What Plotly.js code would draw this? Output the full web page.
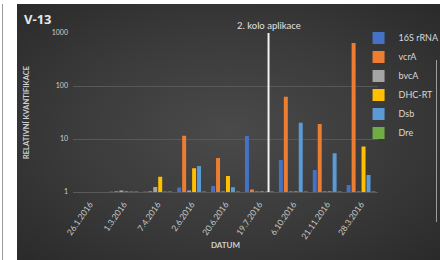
<!DOCTYPE html>
<html>
<head>
<meta charset="utf-8">
<script src="https://cdn.plot.ly/plotly-3.0.1.min.js"></script>
<style>
  html, body { margin: 0; padding: 0; background: #ffffff; width: 440px; height: 260px; overflow: hidden; }
  #edge { position: absolute; left: 2px; top: 4px; width: 1px; height: 256px; background: #9a9a9a; }
  #bg { position: absolute; left: 17px; top: 4px; width: 423px; height: 256px;
        background: radial-gradient(ellipse at 50% 50%, #4a4a4a 0%, #3a3a3a 55%, #2a2a2a 100%); }
  #rline { position: absolute; left: 436px; top: 60px; width: 1px; height: 162px; background: #9c9c9c; }
  #chart { position: absolute; left: 0; top: 0; width: 440px; height: 260px; }
</style>
</head>
<body>
<div id="edge"></div>
<div id="bg"></div>
<div id="rline"></div>
<div id="chart"></div>
<script>
const categories = ["26.1.2016", "1.3.2016", "7.4.2016", "2.6.2016", "20.6.2016", "19.7.2016", "6.10.2016", "21.11.2016", "28.3.2016"];
const s16S   = [1.0, 1.02, 1.02, 1.22, 1.3, 11.4, 4.0, 2.6, 1.35];
const vcrA   = [1.0, 1.03, 1.03, 11.5, 4.4, 1.12, 63, 19.2, 650];
const bvcA   = [1.0, 1.07, 1.24, 1.07, 1.02, 1.02, 1.02, 1.02, 1.02];
const dhcRT  = [1.0, 1.02, 1.95, 2.8, 2.0, 1.02, 1.02, 1.02, 7.2];
const dsb    = [1.0, 1.02, 1.02, 3.1, 1.23, 1.02, 20.3, 5.4, 2.1];
const dre    = [1.0, 1.02, 1.02, 1.02, 1.02, 1.02, 1.02, 1.02, 1.02];
const seriesNames = ["16S rRNA", "vcrA", "bvcA", "DHC-RT", "Dsb", "Dre"];
const seriesColors = ["#4472C4", "#ED7D31", "#A5A5A5", "#FFC000", "#5B9BD5", "#70AD47"];
const seriesValues = [s16S, vcrA, bvcA, dhcRT, dsb, dre];
const yTickVals = [1, 10, 100, 1000];
const yTickText = ["1", "10", "100", "1000"];
const markerPos = 5.27;
const markerLabel = "2. kolo aplikace";

const font = "Lato, 'Open Sans', sans-serif";
const traces = seriesNames.map((n, i) => ({
  type: "bar", name: n, x: categories, y: seriesValues[i],
  marker: { color: seriesColors[i], line: { width: 0 } }
}));

const layout = {
  width: 440, height: 260,
  margin: { l: 72.5, r: 61.5, t: 33, b: 68, pad: 0, autoexpand: false },
  paper_bgcolor: "rgba(0,0,0,0)", plot_bgcolor: "rgba(0,0,0,0)",
  barmode: "group", bargap: 0.12, bargroupgap: 0.2,
  font: { family: font, color: "#d9d9d9" },
  title: { text: "<b>V-13</b>", x: 24/440, xanchor: "left", xref: "container", y: 1 - 19/260, yanchor: "middle", yref: "container",
           font: { family: "'Open Sans', sans-serif", size: 13, color: "#e6e6e6" } },
  xaxis: {
    type: "category", tickangle: -55, tickfont: { size: 8.5, color: "#c8c8c8" },
    showgrid: false, zeroline: false, showline: true, linecolor: "#5a5a5a", linewidth: 1,
    ticks: "", automargin: false, ticklabelstandoff: 3,
    title: { text: "<b>DATUM</b>", font: { size: 8, color: "#cfcfcf" }, standoff: 2 }
  },
  yaxis: {
    type: "log", range: [0, 3], tickvals: yTickVals, ticktext: yTickText,
    tickfont: { size: 7, color: "#d0d0d0" }, gridcolor: "#585858", gridwidth: 1,
    zeroline: false, showline: false, ticks: "", automargin: false, ticklabelstandoff: 4,
    title: { text: "<b>RELATIVNÍ KVANTIFIKACE</b>", font: { size: 7.5, color: "#cfcfcf" }, standoff: 21 }
  },
  legend: {
    x: (359 - 72.5) / 306, xanchor: "left", y: 1.06, yanchor: "top",
    font: { size: 9, color: "#d9d9d9" }, bgcolor: "rgba(0,0,0,0)", borderwidth: 0,
    itemwidth: 30, tracegroupgap: 0
  },
  shapes: [{
    type: "line", xref: "x", yref: "y", x0: markerPos, x1: markerPos, y0: 1, y1: 1000,
    line: { color: "#f2f2f2", width: 2 }
  }],
  annotations: [{
    xref: "x", yref: "paper", x: markerPos, y: 1, yanchor: "bottom", showarrow: false,
    text: markerLabel, font: { size: 9.5, color: "#e0e0e0" }
  }]
};

Plotly.newPlot("chart", traces, layout, { displayModeBar: false, staticPlot: true });
</script>
</body>
</html>
